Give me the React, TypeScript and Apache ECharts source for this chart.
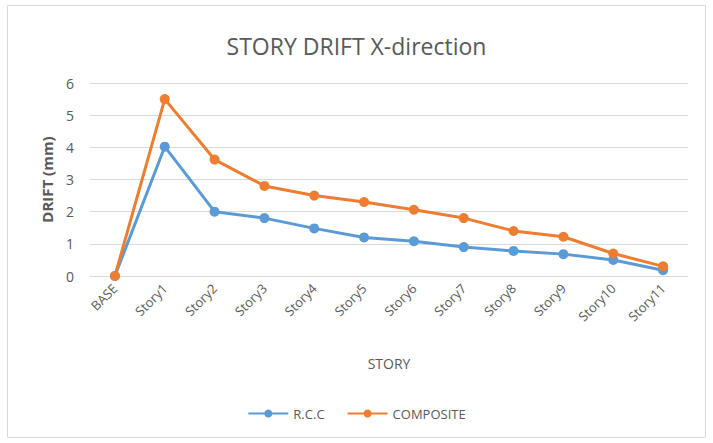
import React, { useEffect, useRef } from "react";
import * as echarts from "echarts";

const categories = ["BASE", "Story1", "Story2", "Story3", "Story4", "Story5", "Story6", "Story7", "Story8", "Story9", "Story10", "Story11"];
const rccValues = [0, 4.02, 2.0, 1.8, 1.48, 1.2, 1.08, 0.9, 0.78, 0.68, 0.5, 0.18];
const compositeValues = [0, 5.5, 3.62, 2.8, 2.5, 2.3, 2.06, 1.8, 1.4, 1.22, 0.7, 0.3];

const FONT = "Open Sans, Noto Sans, sans-serif";
const TXT = "#595959";

export default function App() {
  const ref = useRef<HTMLDivElement>(null);
  useEffect(() => {
    const chart = echarts.init(ref.current!, null, { renderer: "svg" });
    chart.setOption({
      animation: false,
      backgroundColor: "#ffffff",
      textStyle: { fontFamily: FONT },
      title: {
        text: "STORY DRIFT X-direction",
        left: "center",
        top: 29,
        textStyle: { fontSize: 23, fontWeight: "normal", color: TXT, fontFamily: FONT },
      },
      graphic: [
        {
          type: "rect",
          shape: { x: 7.5, y: 5.5, width: 698, height: 432 },
          style: { fill: "none", stroke: "#d9d9d9", lineWidth: 1 },
        },
      ],
      legend: {
        bottom: 18,
        left: "center",
        itemWidth: 40,
        itemHeight: 10,
        itemGap: 22,
        textStyle: { fontSize: 13, color: TXT, fontFamily: FONT },
        data: ["R.C.C", "COMPOSITE"],
      },
      grid: { left: 90, right: 25, top: 83, bottom: 167 },
      xAxis: {
        type: "category",
        data: categories,
        boundaryGap: true,
        name: "STORY",
        nameLocation: "middle",
        nameGap: 80,
        nameTextStyle: { fontSize: 14, color: TXT, fontFamily: FONT },
        axisLine: { lineStyle: { color: "#d9d9d9" } },
        axisTick: { show: false },
        axisLabel: { rotate: 45, fontSize: 13, color: TXT, margin: 10, fontFamily: FONT },
      },
      yAxis: {
        type: "value",
        min: 0,
        max: 6,
        interval: 1,
        name: "DRIFT (mm)",
        nameLocation: "middle",
        nameGap: 36,
        nameTextStyle: { fontSize: 15, fontWeight: "bold", color: TXT, fontFamily: FONT },
        axisLine: { show: false },
        axisTick: { show: false },
        axisLabel: { fontSize: 14, color: TXT, margin: 16, fontFamily: FONT },
        splitLine: { lineStyle: { color: "#d9d9d9" } },
      },
      series: [
        {
          name: "R.C.C",
          type: "line",
          data: rccValues,
          color: "#5b9bd5",
          symbol: "circle",
          symbolSize: 10,
          lineStyle: { width: 3 },
        },
        {
          name: "COMPOSITE",
          type: "line",
          data: compositeValues,
          color: "#ed7d31",
          symbol: "circle",
          symbolSize: 10,
          lineStyle: { width: 3 },
        },
      ],
    });
    return () => chart.dispose();
  }, []);
  return <div ref={ref} style={{ width: 713, height: 443, position: "absolute", left: 0, top: 0 }} />;
}
